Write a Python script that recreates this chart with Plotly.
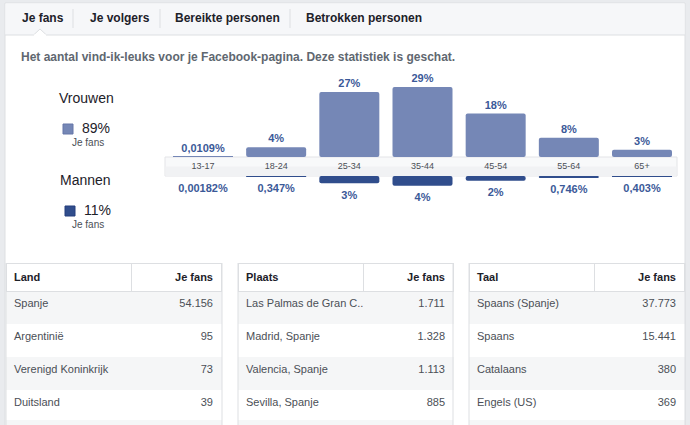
import plotly.graph_objects as go

W, H = 690, 425
FONT = "Liberation Sans, Arial, sans-serif"

# data
age_groups = ["13-17", "18-24", "25-34", "35-44", "45-54", "55-64", "65+"]
women_pct = [0.0109, 4, 27, 29, 18, 8, 3]
men_pct = [0.00182, 0.347, 3, 4, 2, 0.746, 0.403]
women_total = 89
men_total = 11

tabs = ["Je fans", "Je volgers", "Bereikte personen", "Betrokken personen"]
subtitle = "Het aantal vind-ik-leuks voor je Facebook-pagina. Deze statistiek is geschat."

land_names = ["Spanje", "Argentinië", "Verenigd Koninkrijk", "Duitsland"]
land_fans = ["54.156", "95", "73", "39"]
plaats_names = ["Las Palmas de Gran C...", "Madrid, Spanje", "Valencia, Spanje", "Sevilla, Spanje"]
plaats_fans = ["1.711", "1.328", "1.113", "885"]
taal_names = ["Spaans (Spanje)", "Spaans", "Catalaans", "Engels (US)"]
taal_fans = ["37.773", "15.441", "380", "369"]

WOMEN_COLOR = "#7587b6"
MEN_COLOR = "#304d8c"
LABEL_COLOR = "#3b5998"
BORDER = "#dddfe2"
STRIPE = "#f5f6f7"


def X(p):
    return p / W


def Y(p):
    return 1 - p / H


def pct_label(v):
    return f"{v:g}".replace(".", ",") + "%"


BAND = 7.88  # height of the age band in % units

fig = go.Figure()

fig.add_trace(go.Bar(
    x=age_groups, y=women_pct, base=0,
    marker=dict(color=WOMEN_COLOR, line=dict(width=0)),
    width=0.82, hoverinfo="skip",
))
fig.add_trace(go.Bar(
    x=age_groups, y=[-v for v in men_pct], base=-BAND,
    marker=dict(color=MEN_COLOR, line=dict(width=0)),
    width=0.82, hoverinfo="skip",
))
# value labels (invisible markers push the text away from the bar ends)
fig.add_trace(go.Scatter(
    x=age_groups, y=women_pct, mode="markers+text",
    marker=dict(size=2, color="rgba(0,0,0,0)"),
    text=[f"<b>{pct_label(v)}</b>" for v in women_pct], textposition="top center",
    textfont=dict(color=LABEL_COLOR, size=11, family=FONT),
    cliponaxis=False, hoverinfo="skip",
))
fig.add_trace(go.Scatter(
    x=age_groups, y=[-BAND - v for v in men_pct], mode="markers+text",
    marker=dict(size=10, color="rgba(0,0,0,0)"),
    text=[f"<b>{pct_label(v)}</b>" for v in men_pct], textposition="bottom center",
    textfont=dict(color=LABEL_COLOR, size=11, family=FONT),
    cliponaxis=False, hoverinfo="skip",
))

# tables
tables = [
    ("Land", land_names, land_fans, 6, 222),
    ("Plaats", plaats_names, plaats_fans, 238, 453),
    ("Taal", taal_names, taal_fans, 469, 685),
]
for title, names, fans, x0, x1 in tables:
    fills = [STRIPE if i % 2 == 0 else "white" for i in range(len(names))]
    fig.add_trace(go.Table(
        domain=dict(x=[X(x0), X(x1)], y=[0, Y(263)]),
        columnwidth=[126, 90],
        header=dict(
            values=[f"<b>{title}</b>", "<b>Je fans</b>"],
            align=["left", "right"], height=24,
            fill_color="white", line=dict(color=BORDER, width=1),
            font=dict(family=FONT, size=11, color="#1d2129"),
        ),
        cells=dict(
            values=[[n.replace(" ", "\u00a0") for n in names], fans],
            align=["left", "right"], height=33,
            fill_color=[fills, fills], line=dict(color=[fills, fills], width=1),
            font=dict(family=FONT, size=11, color="#4b4f56"),
        ),
    ))

shapes = [
    # card
    dict(type="rect", xref="paper", yref="paper", x0=X(5), x1=X(685), y0=Y(430), y1=Y(3),
         fillcolor="white", line=dict(color=BORDER, width=1), layer="below"),
    # tab bar
    dict(type="rect", xref="paper", yref="paper", x0=X(5.5), x1=X(684.5), y0=Y(35), y1=Y(3.5),
         fillcolor="#f6f7f9", line=dict(width=0), layer="below"),
    dict(type="line", xref="paper", yref="paper", x0=X(5), x1=X(685), y0=Y(35), y1=Y(35),
         line=dict(color=BORDER, width=1), layer="below"),
    dict(type="path", xref="paper", yref="paper", layer="below",
         path=f"M {X(33)} {Y(35.5)} L {X(40)} {Y(29)} L {X(47)} {Y(35.5)} Z",
         fillcolor="white", line=dict(color=BORDER, width=1)),
    dict(type="line", xref="paper", yref="paper", x0=X(33.5), x1=X(46.5), y0=Y(35.5), y1=Y(35.5),
         line=dict(color="white", width=2), layer="below"),
    # age band
    dict(type="rect", xref="paper", yref="y", x0=X(165), x1=X(677), y0=-BAND, y1=0,
         fillcolor="#f8f9fa", line=dict(color="#e3e4e7", width=1), layer="below"),
    dict(type="rect", xref="paper", yref="y", x0=X(165.5), x1=X(676.5), y0=-BAND, y1=-BAND / 2,
         fillcolor="#f1f2f4", line=dict(width=0), layer="below"),
    # legend squares
    dict(type="rect", xref="paper", yref="paper", x0=X(63), x1=X(73), y0=Y(134), y1=Y(124),
         fillcolor=WOMEN_COLOR, line=dict(color="#6677a8", width=1)),
    dict(type="rect", xref="paper", yref="paper", x0=X(65), x1=X(75), y0=Y(216), y1=Y(206),
         fillcolor=MEN_COLOR, line=dict(color="#243f7c", width=1)),
    # stripe below the tables
    *[dict(type="rect", xref="paper", yref="paper", x0=X(t[3]), x1=X(t[4]), y0=Y(426), y1=Y(420),
           fillcolor=STRIPE, line=dict(width=0)) for t in tables],
]
# table outer borders
for _, _, _, x0, x1 in tables:
    for xx in (x0, x1):
        shapes.append(dict(type="line", xref="paper", yref="paper", x0=X(xx), x1=X(xx),
                           y0=Y(426), y1=Y(263), line=dict(color=BORDER, width=1)))
# tab separators
for xx in (73, 160, 290):
    shapes.append(dict(type="line", xref="paper", yref="paper", x0=X(xx), x1=X(xx),
                       y0=Y(28), y1=Y(9), line=dict(color=BORDER, width=1), layer="below"))

annotations = []
tab_x = [20, 88, 173, 304]
for t, xx in zip(tabs, tab_x):
    annotations.append(dict(text=f"<b>{t}</b>", x=X(xx), y=Y(18), xref="paper", yref="paper",
                            xanchor="left", yanchor="middle", showarrow=False,
                            font=dict(family=FONT, size=12, color="#1d2129")))
annotations.append(dict(text=f"<b>{subtitle}</b>", x=X(19), y=Y(57), xref="paper", yref="paper",
                        xanchor="left", yanchor="middle", showarrow=False,
                        font=dict(family=FONT, size=12, color="#606770")))

legend_items = [("Vrouwen", women_total, 98, 128, 142, 86, 80),
                ("Mannen", men_total, 180, 210, 224, 85, 82)]
for name, tot, y_name, y_pct, y_sub, x_name, x_pct in legend_items:
    annotations += [
        dict(text=name, x=X(x_name), y=Y(y_name), xref="paper", yref="paper", showarrow=False,
             xanchor="center", yanchor="middle", font=dict(family=FONT, size=14, color="#1d2129")),
        dict(text=f"{tot}%", x=X(x_pct), y=Y(y_pct), xref="paper", yref="paper", showarrow=False,
             xanchor="left", yanchor="middle", font=dict(family=FONT, size=14, color="#1d2129")),
        dict(text="Je fans", x=X(88), y=Y(y_sub), xref="paper", yref="paper", showarrow=False,
             xanchor="center", yanchor="middle", font=dict(family=FONT, size=10, color="#4b4f56")),
    ]

fig.update_layout(
    width=W, height=H, margin=dict(l=0, r=0, t=0, b=0),
    paper_bgcolor="#e9ebee", plot_bgcolor="rgba(0,0,0,0)",
    showlegend=False, barmode="overlay", barcornerradius=2,
    font=dict(family=FONT),
    xaxis=dict(domain=[X(166.4), X(678.6)], range=[-0.5, 6.5], anchor="free",
               position=Y(159), showgrid=False, showline=False, ticks="", zeroline=False,
               tickfont=dict(family=FONT, size=9, color="#4b4f56"), fixedrange=True),
    yaxis=dict(domain=[Y(205), Y(75)], range=[-19.9, 34.0], visible=False, fixedrange=True),
    shapes=shapes, annotations=annotations,
)

fig.write_html("out.html", config={"displayModeBar": False},
               post_script="document.body.style.margin='0';")
